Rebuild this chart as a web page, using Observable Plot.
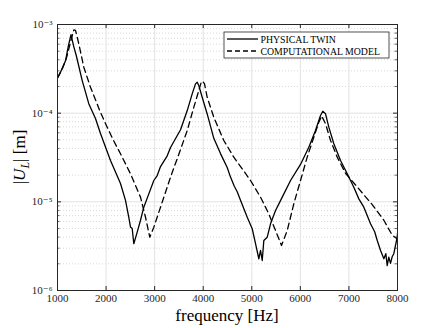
<!DOCTYPE html>
<html><head><meta charset="utf-8">
<script src="https://cdn.jsdelivr.net/npm/d3@7"></script>
<script src="https://cdn.jsdelivr.net/npm/@observablehq/plot@0.6"></script>
<style>body{margin:0;background:#fff} svg{display:block}</style>
</head><body><div id="chart"></div>
<script>
// ---- data ----
const seriesNames = ["PHYSICAL TWIN", "COMPUTATIONAL MODEL"];
const freqPT = [1000,1062,1097,1165,1226,1278,1336,1385,1509,1644,1782,1885,2091,2297,2400,2468,2503,2538,2571,2641,2709,2777,2880,2983,3053,3121,3259,3327,3533,3671,3773,3841,3876,3909,3979,4082,4218,4356,4494,4562,4640,4700,4768,4906,5009,5077,5145,5180,5215,5248,5318,5386,5489,5627,5798,6003,6174,6312,6415,6462,6518,6586,6689,6827,6965,7101,7204,7307,7445,7530,7583,7651,7719,7760,7788,7821,7856,7890,7924,7994,8000];
const magPT = [2.5e-4,2.9e-4,3.2e-4,3.9e-4,5.8e-4,7.7e-4,5.6e-4,4.5e-4,2.33e-4,1.28e-4,8.7e-5,5.9e-5,2.92e-5,1.61e-5,1.04e-5,6.7e-6,5.2e-6,5.0e-6,3.37e-6,4.55e-6,6.2e-6,8.7e-6,1.23e-5,1.74e-5,1.98e-5,2.5e-5,3.3e-5,4.1e-5,6.5e-5,1.07e-4,1.65e-4,2.14e-4,2.23e-4,2.05e-4,1.51e-4,9.8e-5,5.2e-5,3.5e-5,2.44e-5,1.9e-5,1.5e-5,1.3e-5,1.04e-5,6.7e-6,4.97e-6,3.37e-6,2.28e-6,2.83e-6,2.18e-6,3.66e-6,3.99e-6,5.65e-6,7.98e-6,1.13e-5,1.74e-5,2.64e-5,4.13e-5,6.38e-5,9.42e-5,1.05e-4,9.84e-5,6.95e-5,4.52e-5,2.93e-5,2.07e-5,1.46e-5,1.08e-5,8.7e-6,5.65e-6,4.6e-6,3.66e-6,2.83e-6,2.28e-6,2.6e-6,1.91e-6,2.38e-6,2.02e-6,2.4e-6,2.6e-6,3.99e-6,4.4e-6];
const freqCM = [1000,1103,1185,1268,1336,1371,1439,1542,1679,1885,2023,2153,2297,2503,2709,2812,2900,2983,3121,3327,3533,3671,3807,3909,3959,3985,4027,4082,4218,4424,4630,4803,4974,5180,5351,5489,5612,5730,5865,6003,6141,6277,6380,6440,6518,6621,6759,6930,7136,7307,7480,7719,7892,8000];
const magCM = [2.5e-4,3.2e-4,4.2e-4,6.3e-4,8.7e-4,8.6e-4,6.05e-4,3.3e-4,1.96e-4,1.02e-4,6.95e-5,4.92e-5,3.48e-5,2.07e-5,1.13e-5,6.7e-6,3.99e-6,5.18e-6,8.7e-6,1.9e-5,3.89e-5,6.38e-5,1.17e-4,1.8e-4,2.23e-4,2.3e-4,2.14e-4,1.51e-4,9.0e-5,4.92e-5,3.19e-5,2.36e-5,1.74e-5,1.13e-5,7.3e-6,4.75e-6,3.22e-6,4.75e-6,9.5e-6,1.74e-5,3.19e-5,5.36e-5,7.9e-5,9.3e-5,7.6e-5,4.92e-5,3.19e-5,2.1e-5,1.55e-5,1.2e-5,9.3e-6,6.2e-6,4.2e-6,3.8e-6];
const xTicks = [1000,2000,3000,4000,5000,6000,7000,8000];
const yTicks = [1e-6,1e-5,1e-4,1e-3];
const xLabel = "frequency [Hz]";

// ---- layout ----
const W = 438, H = 328, mL = 57, mR = 41, mT = 24, mB = 38;
const fw = W - mL - mR, fh = H - mT - mB;
const font = "'Liberation Serif', 'DejaVu Serif', serif";
const axisColor = "#262626";

const pt = freqPT.map((f, i) => ({f, m: magPT[i]}));
const cm = freqCM.map((f, i) => ({f, m: magCM[i]}));
const minorY = d3.scaleLog().domain([1e-6, 1e-3]).ticks()
  .filter(v => Math.abs(Math.log10(v) - Math.round(Math.log10(v))) > 1e-6);
const sup = {"-":"\u207B","0":"\u2070","1":"\u00B9","2":"\u00B2","3":"\u00B3","4":"\u2074","5":"\u2075","6":"\u2076","7":"\u2077","8":"\u2078","9":"\u2079"};
const fmtY = d => "10" + String(Math.round(Math.log10(d))).split("").map(c => sup[c]).join("");

const chart = Plot.plot({
  width: W, height: H,
  marginLeft: mL, marginRight: mR, marginTop: mT, marginBottom: mB,
  style: {fontFamily: font, fontSize: "11px", background: "#fff", color: "#262626"},
  x: {domain: [1000, 8000], label: null},
  y: {type: "log", domain: [1e-6, 1e-3], label: null},
  marks: [
    Plot.ruleY(minorY, {stroke: "#cfcfcf", strokeDasharray: "1,2", strokeWidth: 0.8}),
    Plot.ruleY(yTicks, {stroke: "#e2e2e2", strokeWidth: 1}),
    Plot.ruleX(xTicks, {stroke: "#e2e2e2", strokeWidth: 1}),
    Plot.line(pt, {x: "f", y: "m", stroke: "#000", strokeWidth: 1.3, clip: true}),
    Plot.line(cm, {x: "f", y: "m", stroke: "#000", strokeWidth: 1.3, strokeDasharray: "6,4", clip: true}),
    Plot.tickX(xTicks, {x: d => d, insetTop: fh - 4, stroke: axisColor}),
    Plot.tickX(xTicks, {x: d => d, insetBottom: fh - 4, stroke: axisColor}),
    Plot.tickY(yTicks, {y: d => d, insetRight: fw - 4, stroke: axisColor}),
    Plot.tickY(yTicks, {y: d => d, insetLeft: fw - 4, stroke: axisColor}),
    Plot.tickY(minorY, {y: d => d, insetRight: fw - 2.5, stroke: axisColor, strokeWidth: 0.7}),
    Plot.tickY(minorY, {y: d => d, insetLeft: fw - 2.5, stroke: axisColor, strokeWidth: 0.7}),
    Plot.frame({stroke: axisColor, strokeWidth: 1}),
    Plot.axisX({ticks: xTicks, tickSize: 0, tickPadding: 4, tickFormat: d => String(d), label: null}),
    Plot.axisY({ticks: yTicks, tickSize: 0, tickPadding: 5, tickFormat: fmtY, label: null})
  ]
});
document.getElementById("chart").appendChild(chart);

const svg = d3.select(chart);
// x label
svg.append("text")
  .attr("x", mL + fw / 2).attr("y", H - 7)
  .attr("text-anchor", "middle")
  .style("font-family", font).style("font-size", "17px").attr("fill", "#000")
  .text(xLabel);
// y label |U_L| [m]
const yl = svg.append("text")
  .attr("transform", `translate(25,${mT + fh / 2}) rotate(-90)`)
  .attr("text-anchor", "middle")
  .style("font-family", font).style("font-size", "17px").attr("fill", "#000");
yl.append("tspan").text("|");
yl.append("tspan").style("font-style", "italic").text("U");
yl.append("tspan").style("font-style", "italic").style("font-size", "12px").attr("dy", 4).text("L");
yl.append("tspan").attr("dy", -4).text("| [m]");

// legend
const lg = svg.append("g");
const lx = 224, ly = 32, lw = 165, lh = 26;
lg.append("rect").attr("x", lx).attr("y", ly).attr("width", lw).attr("height", lh)
  .attr("fill", "#fff").attr("stroke", axisColor).attr("stroke-width", 0.8);
seriesNames.forEach((name, i) => {
  const yy = ly + 7 + i * 12;
  lg.append("line").attr("x1", lx + 3).attr("x2", lx + 34).attr("y1", yy).attr("y2", yy)
    .attr("stroke", "#000").attr("stroke-width", 1.3)
    .attr("stroke-dasharray", i ? "5,3" : null);
  lg.append("text").attr("x", lx + 36.5).attr("y", yy + 3.5)
    .attr("text-anchor", "start")
    .style("font-family", font).style("font-size", "9.8px").attr("fill", "#000")
    .text(name);
});
</script>
</body></html>
